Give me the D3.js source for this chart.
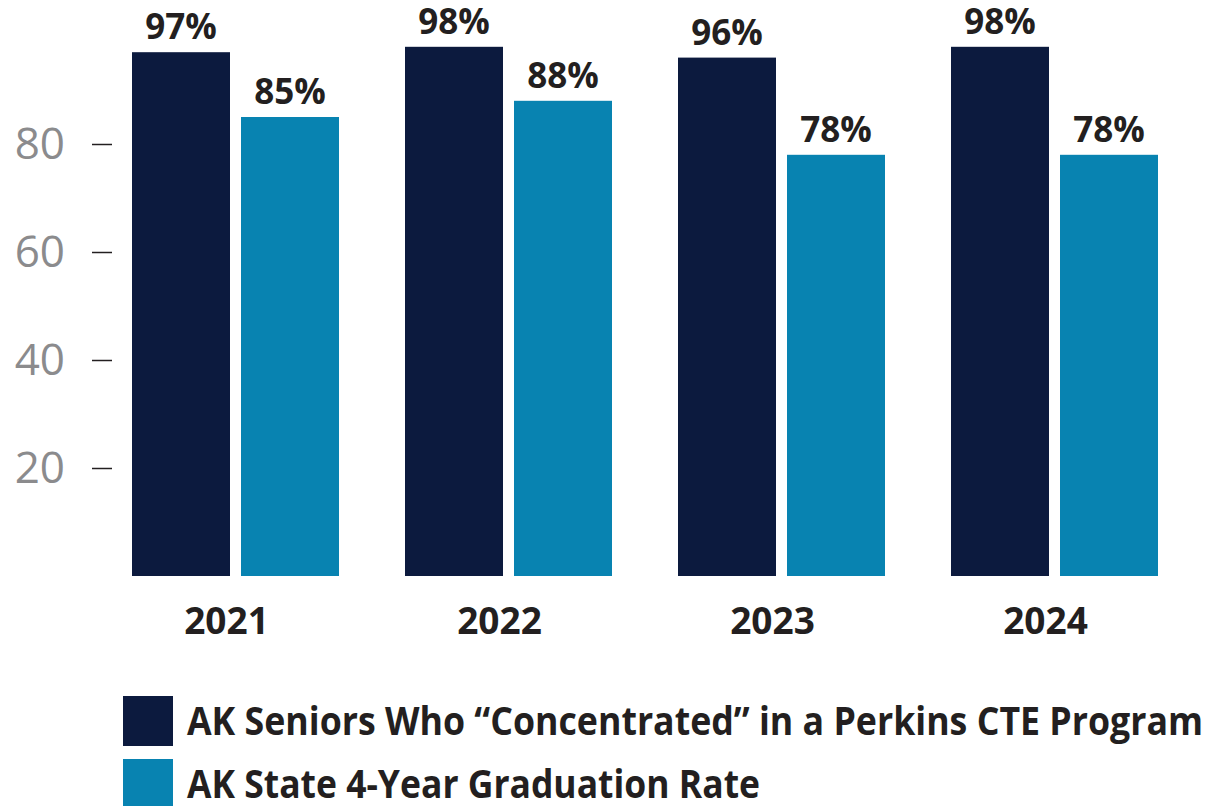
<!DOCTYPE html>
<html><head><meta charset="utf-8">
<script src="https://cdn.jsdelivr.net/npm/d3@7"></script>
<style>html,body{margin:0;padding:0;background:#fff;}svg{display:block;}</style>
</head><body>
<svg id="chart" width="1210" height="806"></svg>
<script>
const years = ["2021", "2022", "2023", "2024"];
const seriesNames = ["AK Seniors Who \u201CConcentrated\u201D in a Perkins CTE Program", "AK State 4-Year Graduation Rate"];
const ctePct = [97, 98, 96, 98];
const gradPct = [85, 88, 78, 78];
const yTicks = [20, 40, 60, 80];
const colors = ["#0c1a3e", "#0883b1"];

const svg = d3.select("#chart");
const x = d3.scaleBand().domain(years).range([132, 1158]).paddingInner(66/273).paddingOuter(0);
const xs = d3.scaleBand().domain([0, 1]).range([0, x.bandwidth()]).paddingInner(11/109).paddingOuter(0);
const y = d3.scaleLinear().domain([0, 100]).range([576, 36]);

const data = years.map((yr, i) => ({year: yr, vals: [ctePct[i], gradPct[i]]}));

// Y axis
const yAxis = d3.axisLeft(y).tickValues(yTicks).tickSize(20).tickPadding(27).tickFormat(d3.format("d"));
const ga = svg.append("g").attr("transform", "translate(112,0)").call(yAxis);
ga.select(".domain").remove();
ga.selectAll(".tick line").attr("stroke", "#231f20").attr("stroke-width", 1.5);
ga.selectAll(".tick text").attr("fill", "#8b8b8d").attr("font-family", "Open Sans").attr("font-size", 44).attr("dy", "0.34em");

// bars
const groups = svg.selectAll(".grp").data(data).join("g").attr("transform", d => `translate(${x(d.year)},0)`);
groups.selectAll("rect").data(d => d.vals.map((v, k) => ({v, k}))).join("rect")
  .attr("x", d => xs(d.k)).attr("width", xs.bandwidth())
  .attr("y", d => y(d.v)).attr("height", d => y(0) - y(d.v))
  .attr("fill", d => colors[d.k]);
groups.selectAll("text.val").data(d => d.vals.map((v, k) => ({v, k}))).join("text").attr("class", "val")
  .attr("x", d => xs(d.k) + xs.bandwidth()/2).attr("y", d => y(d.v) - 13)
  .attr("text-anchor", "middle").attr("font-family", "Open Sans").attr("font-weight", 700)
  .attr("font-size", 35).attr("fill", "#231f20").text(d => d.v + "%");

// x labels
svg.selectAll("text.yr").data(years).join("text").attr("class", "yr")
  .attr("x", d => x(d) + x.bandwidth()/2 - 9).attr("y", 634)
  .attr("text-anchor", "middle").attr("font-family", "Open Sans").attr("font-weight", 700)
  .attr("font-size", 37).attr("fill", "#231f20").text(d => d);

// legend
const lg = svg.selectAll("g.lg").data(seriesNames).join("g").attr("class", "lg")
  .attr("transform", (d, i) => `translate(123,${696 + i * 63})`);
lg.append("rect").attr("width", 50).attr("height", 50).attr("fill", (d, i) => colors[i]);
lg.append("text").attr("x", 64).attr("y", 39).attr("font-family", "Open Sans").attr("font-weight", 700)
  .attr("font-size", 40).attr("fill", "#231f20")
  .attr("textLength", (d, i) => i === 0 ? 1016 : 573).attr("lengthAdjust", "spacingAndGlyphs")
  .text(d => d);
</script>
</body></html>
